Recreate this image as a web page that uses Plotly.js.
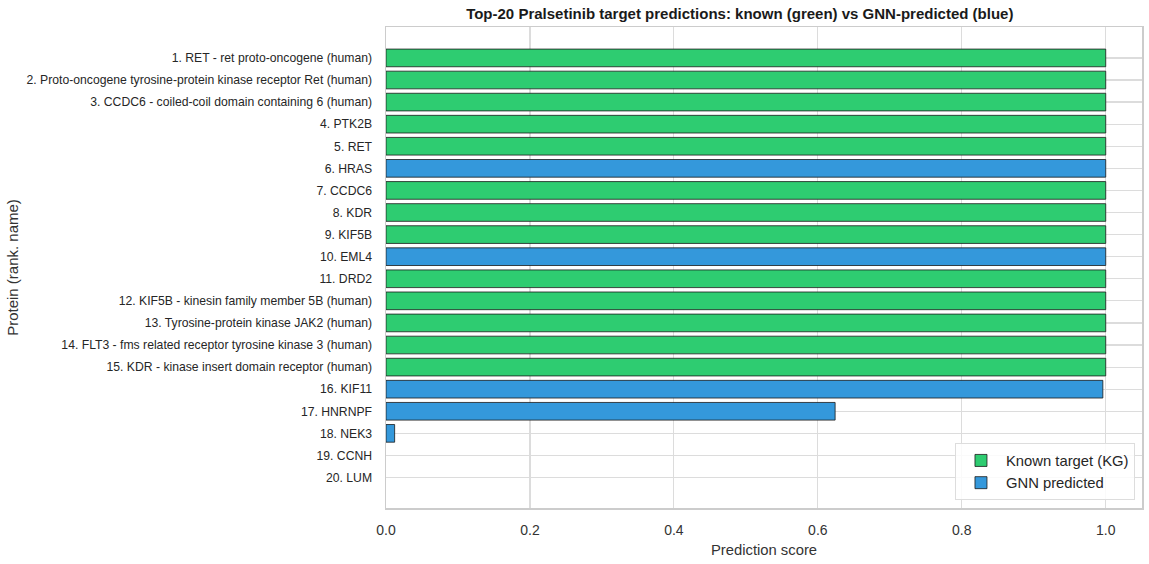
<!DOCTYPE html>
<html>
<head>
<meta charset="utf-8">
<script src="https://cdn.plot.ly/plotly-3.0.1.min.js"></script>
<style>html,body{margin:0;padding:0;background:#fff}#chart{width:1149px;height:564px}</style>
</head>
<body>
<div id="chart"></div>
<script>
const proteins = [
  "1. RET - ret proto-oncogene (human)",
  "2. Proto-oncogene tyrosine-protein kinase receptor Ret (human)",
  "3. CCDC6 - coiled-coil domain containing 6 (human)",
  "4. PTK2B",
  "5. RET",
  "6. HRAS",
  "7. CCDC6",
  "8. KDR",
  "9. KIF5B",
  "10. EML4",
  "11. DRD2",
  "12. KIF5B - kinesin family member 5B (human)",
  "13. Tyrosine-protein kinase JAK2 (human)",
  "14. FLT3 - fms related receptor tyrosine kinase 3 (human)",
  "15. KDR - kinase insert domain receptor (human)",
  "16. KIF11",
  "17. HNRNPF",
  "18. NEK3",
  "19. CCNH",
  "20. LUM"
];
const scores = [1.0, 1.0, 1.0, 1.0, 1.0, 1.0, 1.0, 1.0, 1.0, 1.0,
                1.0, 1.0, 1.0, 1.0, 1.0, 0.996, 0.624, 0.012, 0.0, 0.0];
const known = [true, true, true, true, true, false, true, true, true, false,
               true, true, true, true, true, false, false, false, false, false];
const xTicks = [0.0, 0.2, 0.4, 0.6, 0.8, 1.0];
const xTickLabels = ["0.0", "0.2", "0.4", "0.6", "0.8", "1.0"];

function pick(flag) {
  const y = [], x = [];
  proteins.forEach((p, i) => { if (known[i] === flag) { y.push(p); x.push(scores[i]); } });
  return {x, y};
}
const k = pick(true), g = pick(false);
const font = "Liberation Sans, Arial, sans-serif";
const edge = xs => xs.map(v => v > 0 ? 0.8 : 0);

const traces = [
  {type: 'bar', orientation: 'h', name: 'Known target (KG)', x: k.x, y: k.y, width: 0.8,
   marker: {color: '#2ecc71', line: {color: '#1a1a1a', width: edge(k.x)}}},
  {type: 'bar', orientation: 'h', name: 'GNN predicted', x: g.x, y: g.y, width: 0.8,
   marker: {color: '#3498db', line: {color: '#1a1a1a', width: edge(g.x)}}}
];

const layout = {
  width: 1149, height: 564,
  margin: {l: 386, r: 7, t: 27, b: 56},
  paper_bgcolor: '#fff', plot_bgcolor: '#fff',
  barmode: 'overlay',
  font: {family: font, color: '#262626'},
  title: {text: '<b>Top-20 Pralsetinib target predictions: known (green) vs GNN-predicted (blue)</b>',
          font: {size: 15, family: font, color: '#1a1a1a'},
          x: 0.468, xref: 'paper', xanchor: 'center', y: 1, yref: 'paper', yanchor: 'bottom', pad: {b: 8}},
  xaxis: {range: [0, 1.0504], tickvals: xTicks, ticktext: xTickLabels,
          showgrid: true, gridcolor: '#dcdcdc', gridwidth: 1.2, zeroline: false,
          showline: true, mirror: true, linecolor: '#cccccc', linewidth: 1.5,
          ticks: '', ticklabelstandoff: 9, tickfont: {size: 14, color: '#333'},
          title: {text: 'Prediction score', font: {size: 14.8, color: '#333'}, standoff: 7}},
  yaxis: {type: 'category', categoryorder: 'array', categoryarray: proteins,
          range: [20.38, -1.4], showgrid: true, gridcolor: '#dcdcdc', gridwidth: 1.2, zeroline: false,
          showline: true, mirror: true, linecolor: '#cccccc', linewidth: 1.5,
          ticks: '', ticklabelstandoff: 10, tickfont: {size: 12.2, color: '#262626'},
          title: {text: 'Protein (rank. name)', font: {size: 15, color: '#333'}, standoff: 4}},
  legend: {x: 0.9907, y: 0.016, xanchor: 'right', yanchor: 'bottom',
           bgcolor: 'rgba(255,255,255,0.85)', bordercolor: '#dddddd', borderwidth: 1,
           font: {size: 14.8, color: '#262626'}, traceorder: 'normal', itemwidth: 40,
           tracegroupgap: 2}
};
Plotly.newPlot('chart', traces, layout, {displayModeBar: false, staticPlot: true});
</script>
</body>
</html>
